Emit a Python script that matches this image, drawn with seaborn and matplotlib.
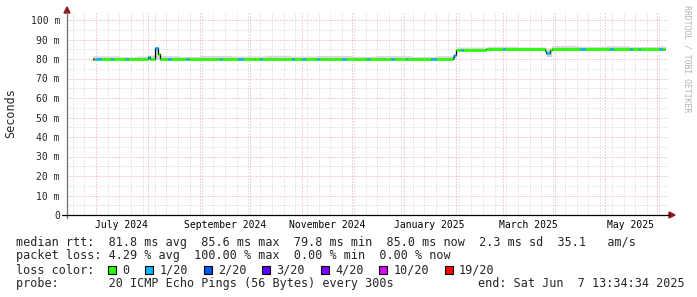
import numpy as np
import pandas as pd
import matplotlib
matplotlib.use("Agg")
import matplotlib.pyplot as plt
import matplotlib.dates as mdates
import matplotlib.ticker as mticker
from matplotlib.patches import Rectangle, Polygon
from matplotlib.lines import Line2D
import seaborn as sns

# ---------------- data ----------------
median_dates = ["2024-06-29", "2024-08-01", "2024-08-02", "2024-08-05", "2024-08-07",
                "2024-08-08", "2024-08-26", "2024-09-12", "2024-10-04", "2024-10-22",
                "2024-11-14", "2024-12-04", "2024-12-20", "2025-01-08", "2025-01-30",
                "2025-01-31", "2025-02-01", "2025-02-15", "2025-02-19", "2025-03-26",
                "2025-03-27", "2025-03-29", "2025-03-30"]
median_ms = [80.0, 80.9, 80.0, 85.6, 82.6,
             80.0, 80.2, 80.0, 80.2, 80.0,
             80.2, 80.0, 80.2, 80.0, 81.0,
             82.2, 84.8, 84.4, 84.9, 84.3,
             83.3, 84.4, 85.0]

loss_dates = ["2024-06-29", "2024-06-30", "2024-07-01", "2024-07-04", "2024-07-10",
              "2024-07-11", "2024-07-19", "2024-07-20", "2024-08-01", "2024-08-02",
              "2024-08-05", "2024-08-07", "2024-08-13", "2024-08-15", "2024-08-24",
              "2024-08-25", "2024-09-13", "2024-09-14", "2024-09-24", "2024-09-27",
              "2024-10-07", "2024-10-08", "2024-10-26", "2024-10-27", "2024-11-01",
              "2024-11-03", "2024-11-10", "2024-11-11", "2024-11-25", "2024-11-27",
              "2024-12-10", "2024-12-11", "2024-12-24", "2024-12-26", "2025-01-02",
              "2025-01-03", "2025-01-17", "2025-01-20", "2025-01-30", "2025-02-01",
              "2025-02-04", "2025-02-05", "2025-03-01", "2025-03-02", "2025-03-27",
              "2025-03-29", "2025-04-16", "2025-04-19", "2025-05-04", "2025-05-06",
              "2025-05-16", "2025-05-17", "2025-05-21", "2025-05-22", "2025-06-02",
              "2025-06-04"]
loss_level = [5, 0, 1, 0, 1,
              0, 1, 0, 1, 0,
              1, 0, 1, 0, 1,
              0, 1, 0, 1, 0,
              1, 0, 1, 0, 1,
              0, 1, 0, 1, 0,
              1, 0, 1, 0, 1,
              0, 1, 0, 1, 0,
              1, 0, 1, 0, 1,
              0, 1, 0, 1, 0,
              1, 0, 1, 0, 1,
              0]

smoke_dates = ["2024-06-29", "2024-07-15", "2024-07-25", "2024-08-01", "2024-08-05",
               "2024-08-07", "2024-08-08", "2024-08-20", "2024-09-01", "2024-09-20",
               "2024-10-10", "2024-10-25", "2024-11-10", "2024-12-01", "2024-12-15",
               "2025-01-05", "2025-01-20", "2025-01-30", "2025-02-01", "2025-02-02",
               "2025-02-20", "2025-03-10", "2025-03-26", "2025-03-30", "2025-04-15",
               "2025-05-01", "2025-05-15", "2025-06-01"]
smoke_top_ms = [81.6, 81.2, 81.5, 82.0, 86.4,
                83.3, 81.7, 81.3, 81.8, 81.5,
                81.9, 81.5, 81.8, 81.4, 81.7,
                81.3, 81.7, 82.4, 85.8, 86.1,
                86.5, 86.2, 85.7, 86.9, 86.5,
                86.8, 86.4, 86.7]
smoke_low_dates = ["2024-06-29", "2025-02-01", "2025-03-27", "2025-03-30"]
smoke_low_ms = [79.7, 84.4, 81.2, 84.7]

data_start = "2024-06-29"
data_end = "2025-06-05"

loss_labels = ["0", "1/20", "2/20", "3/20", "4/20", "10/20", "19/20"]
loss_colors = ["#26ff00", "#00b8ff", "#0059ff", "#5e00ff", "#7e00ff", "#dd00ff", "#ff0000"]

y_ticks = [0, 10, 20, 30, 40, 50, 60, 70, 80, 90, 100]
y_tick_labels = ["0", "10 m", "20 m", "30 m", "40 m", "50 m", "60 m", "70 m", "80 m", "90 m", "100 m"]

x_label_dates = ["2024-07-16", "2024-09-16", "2024-11-16", "2025-01-16", "2025-03-16", "2025-05-16"]
x_labels = ["July 2024", "September 2024", "November 2024", "January 2025", "March 2025", "May 2025"]

stat_line1 = "median rtt:  81.8 ms avg  85.6 ms max  79.8 ms min  85.0 ms now  2.3 ms sd  35.1   am/s"
stat_line2 = "packet loss: 4.29 % avg  100.00 % max  0.00 % min  0.00 % now"
legend_title = "loss color:"
probe_text = "probe:       20 ICMP Echo Pings (56 Bytes) every 300s"
end_text = "end: Sat Jun  7 13:34:34 2025"

# ---------------- build daily table (step lookup) ----------------
days = pd.date_range(data_start, data_end, freq="D")


def step_lookup(dates, vals):
    s = pd.Series(vals, index=pd.to_datetime(dates))
    return s.reindex(days, method="ffill").to_numpy()


daily = pd.DataFrame({
    "t": days,
    "median": step_lookup(median_dates, median_ms),
    "loss": step_lookup(loss_dates, loss_level).astype(int),
    "top": step_lookup(smoke_dates, smoke_top_ms),
    "low": step_lookup(smoke_low_dates, smoke_low_ms),
})
one_day = pd.Timedelta(days=1)

# ---------------- figure ----------------
sns.set_style("white")
plt.rcParams["font.family"] = ["DejaVu Sans Mono"]
W, H = 697, 297
fig = plt.figure(figsize=(W / 100, H / 100), dpi=100)
fig.patch.set_facecolor("white")


def fx(x):
    return x / W


def fy(y):
    return 1 - y / H


ax_l, ax_r, ax_b, ax_t = 67, 668, 215, 13
ax = fig.add_axes([fx(ax_l), fy(ax_b), (ax_r - ax_l) / W, (ax_b - ax_t) / H])
ax.set_facecolor("white")

x0 = pd.Timestamp("2024-06-13 16:20")
x1 = pd.Timestamp("2025-06-07 13:34")
ax.set_xlim(x0, x1)
ax.set_ylim(0, (ax_b - ax_t) / 1.95)

# grid
ax.xaxis.set_major_locator(mdates.MonthLocator())
ax.xaxis.set_minor_locator(mdates.WeekdayLocator(byweekday=mdates.MO))
ax.yaxis.set_major_locator(mticker.FixedLocator(y_ticks))
ax.yaxis.set_minor_locator(mticker.MultipleLocator(5))
ax.set_yticklabels(y_tick_labels)
ax.set_axisbelow(True)
ax.grid(True, which="minor", color="#cfcfcf", linestyle=(0, (1, 2)), linewidth=0.72)
ax.grid(True, which="major", color="#e8a4a4", linestyle=(0, (1, 2)), linewidth=0.72)
ax.tick_params(axis="x", which="both", length=0, labelbottom=False)
ax.tick_params(axis="y", which="major", length=2.9, width=0.7, color="#555555",
               pad=2.2, labelsize=7)
ax.tick_params(axis="y", which="minor", length=0)
for s in ax.spines.values():
    s.set_visible(False)

# smoke
t_ext = list(daily["t"]) + [daily["t"].iloc[-1] + one_day]
top_ext = list(daily["top"]) + [daily["top"].iloc[-1]]
low_ext = list(daily["low"]) + [daily["low"].iloc[-1]]
ax.fill_between(t_ext, low_ext, top_ext, step="post", color="#d6d6d6", linewidth=0, zorder=2)

# black median step line (vertical connectors)
med_ext = list(daily["median"]) + [daily["median"].iloc[-1]]
step_df = pd.DataFrame({"t": t_ext, "v": med_ext})
sns.lineplot(data=step_df, x="t", y="v", ax=ax, color="black", linewidth=0.9,
             drawstyle="steps-post", estimator=None, sort=False, zorder=3)

# coloured median segments by loss
key = (daily["median"].diff().ne(0) | daily["loss"].diff().ne(0)).cumsum()
rows = []
for g, grp in daily.groupby(key):
    lab = loss_labels[grp["loss"].iloc[0]]
    v = grp["median"].iloc[0]
    rows.append({"t": grp["t"].iloc[0], "v": v, "loss": lab, "seg": g})
    rows.append({"t": grp["t"].iloc[-1] + one_day, "v": v, "loss": lab, "seg": g})
seg_df = pd.DataFrame(rows)
present = [l for l in loss_labels if l in set(seg_df["loss"])]
pal = {l: loss_colors[loss_labels.index(l)] for l in present}
sns.lineplot(data=seg_df, x="t", y="v", hue="loss", hue_order=present, units="seg",
             estimator=None, palette=pal, linewidth=1.9, legend=False, sort=False,
             ax=ax, zorder=4, solid_capstyle="butt")
ax.set_xlabel("")
ax.set_ylabel("")

# x labels (mid-month)
trans = matplotlib.transforms.blended_transform_factory(ax.transData, fig.transFigure)
for d, lab in zip(x_label_dates, x_labels):
    ax.text(mdates.date2num(pd.Timestamp(d)), fy(228), lab, transform=trans,
            ha="center", va="baseline", fontsize=7, color="black")

# axis lines and arrows
fig.add_artist(Line2D([fx(67), fx(67)], [fy(218), fy(12)], transform=fig.transFigure,
                      color="#6e6e6e", linewidth=0.9))
fig.add_artist(Line2D([fx(62), fx(669)], [fy(215), fy(215)], transform=fig.transFigure,
                      color="black", linewidth=0.9))
fig.add_artist(Polygon([[fx(64), fy(13)], [fx(70), fy(13)], [fx(67), fy(7)]],
                       closed=True, transform=fig.transFigure, color="#8b1a1a"))
fig.add_artist(Polygon([[fx(669), fy(212)], [fx(669), fy(218)], [fx(675), fy(215)]],
                       closed=True, transform=fig.transFigure, color="#8b1a1a"))

# y label and watermark
fig.text(fx(11), fy(113), "Seconds", rotation=90, ha="center", va="center", fontsize=8.5)
fig.text(fx(687), fy(5), "RRDTOOL / TOBI OETIKER", rotation=270, ha="center", va="top",
         fontsize=5.9, color="#b4b4b4")

# legend / stats
cw = 7.08
fig.text(fx(16), fy(246), stat_line1, ha="left", va="baseline", fontsize=8.5)
fig.text(fx(16), fy(259.5), stat_line2, ha="left", va="baseline", fontsize=8.5)
fig.text(fx(16), fy(273.5), legend_title, ha="left", va="baseline", fontsize=8.5)
bx = 16 + 13 * cw
for lab, col in zip(loss_labels, loss_colors):
    fig.add_artist(Rectangle((fx(bx), fy(274)), 8 / W, 8 / H, transform=fig.transFigure,
                             facecolor=col, edgecolor="black", linewidth=0.8))
    tx = bx + 14
    fig.text(fx(tx), fy(273.5), lab, ha="left", va="baseline", fontsize=8.5)
    bx = tx + len(lab) * cw + 16.2
fig.text(fx(16), fy(287), probe_text, ha="left", va="baseline", fontsize=8.5)
fig.text(fx(478), fy(287), end_text, ha="left", va="baseline", fontsize=8.5)

fig.savefig("out.png", dpi=100, facecolor="white")
